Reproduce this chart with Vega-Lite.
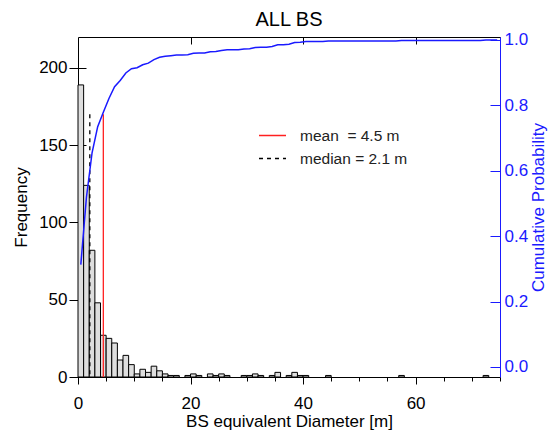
{
  "$schema": "https://vega.github.io/schema/vega-lite/v6.json",
  "width": 422,
  "height": 340,
  "autosize": "none",
  "padding": {"left": 78, "top": 37, "right": 57, "bottom": 55},
  "background": "white",
  "config": {
    "font": "Liberation Sans",
    "view": {"stroke": "black", "strokeWidth": 1},
    "axis": {
      "labelFont": "Liberation Sans", "titleFont": "Liberation Sans",
      "labelFontSize": 17, "titleFontSize": 17, "titleFontWeight": "normal",
      "grid": false, "labelColor": "black", "titleColor": "black",
      "tickColor": "black", "domainColor": "black", "labelFlush": false, "labelOverlap": false
    }
  },
  "title": {"text": "ALL BS", "fontSize": 20, "fontWeight": "normal", "font": "Liberation Sans", "offset": 1, "color": "black", "frame": "group"},
  "datasets": {
    "bins": [
      {"b0":0,"b1":1,"mid":0.5,"n":189,"cum":0.313},
      {"b0":1,"b1":2,"mid":1.5,"n":124,"cum":0.519},
      {"b0":2,"b1":3,"mid":2.5,"n":82,"cum":0.655},
      {"b0":3,"b1":4,"mid":3.5,"n":48,"cum":0.735},
      {"b0":4,"b1":5,"mid":4.5,"n":27,"cum":0.779},
      {"b0":5,"b1":6,"mid":5.5,"n":25,"cum":0.821},
      {"b0":6,"b1":7,"mid":6.5,"n":22,"cum":0.857},
      {"b0":7,"b1":8,"mid":7.5,"n":11,"cum":0.876},
      {"b0":8,"b1":9,"mid":8.5,"n":14,"cum":0.899},
      {"b0":9,"b1":10,"mid":9.5,"n":8,"cum":0.912},
      {"b0":10,"b1":11,"mid":10.5,"n":2,"cum":0.915},
      {"b0":11,"b1":12,"mid":11.5,"n":5,"cum":0.924},
      {"b0":12,"b1":13,"mid":12.5,"n":3,"cum":0.929},
      {"b0":13,"b1":14,"mid":13.5,"n":7,"cum":0.940},
      {"b0":14,"b1":15,"mid":14.5,"n":4,"cum":0.947},
      {"b0":15,"b1":16,"mid":15.5,"n":2,"cum":0.950},
      {"b0":16,"b1":17,"mid":16.5,"n":1,"cum":0.952},
      {"b0":17,"b1":18,"mid":17.5,"n":1,"cum":0.954},
      {"b0":18,"b1":19,"mid":18.5,"n":0,"cum":0.954},
      {"b0":19,"b1":20,"mid":19.5,"n":1,"cum":0.955},
      {"b0":20,"b1":21,"mid":20.5,"n":2,"cum":0.959},
      {"b0":21,"b1":22,"mid":21.5,"n":1,"cum":0.960},
      {"b0":22,"b1":23,"mid":22.5,"n":0,"cum":0.960},
      {"b0":23,"b1":24,"mid":23.5,"n":2,"cum":0.964},
      {"b0":24,"b1":25,"mid":24.5,"n":1,"cum":0.965},
      {"b0":25,"b1":26,"mid":25.5,"n":2,"cum":0.968},
      {"b0":26,"b1":27,"mid":26.5,"n":1,"cum":0.970},
      {"b0":27,"b1":28,"mid":27.5,"n":0,"cum":0.970},
      {"b0":28,"b1":29,"mid":28.5,"n":0,"cum":0.970},
      {"b0":29,"b1":30,"mid":29.5,"n":1,"cum":0.972},
      {"b0":30,"b1":31,"mid":30.5,"n":1,"cum":0.973},
      {"b0":31,"b1":32,"mid":31.5,"n":2,"cum":0.977},
      {"b0":32,"b1":33,"mid":32.5,"n":1,"cum":0.978},
      {"b0":33,"b1":34,"mid":33.5,"n":0,"cum":0.978},
      {"b0":34,"b1":35,"mid":34.5,"n":1,"cum":0.980},
      {"b0":35,"b1":36,"mid":35.5,"n":3,"cum":0.985},
      {"b0":36,"b1":37,"mid":36.5,"n":0,"cum":0.985},
      {"b0":37,"b1":38,"mid":37.5,"n":1,"cum":0.987},
      {"b0":38,"b1":39,"mid":38.5,"n":3,"cum":0.992},
      {"b0":39,"b1":40,"mid":39.5,"n":1,"cum":0.993},
      {"b0":40,"b1":41,"mid":40.5,"n":1,"cum":0.995},
      {"b0":41,"b1":42,"mid":41.5,"n":0,"cum":0.995},
      {"b0":42,"b1":43,"mid":42.5,"n":0,"cum":0.995},
      {"b0":43,"b1":44,"mid":43.5,"n":0,"cum":0.995},
      {"b0":44,"b1":45,"mid":44.5,"n":1,"cum":0.997},
      {"b0":45,"b1":46,"mid":45.5,"n":0,"cum":0.997},
      {"b0":46,"b1":47,"mid":46.5,"n":0,"cum":0.997},
      {"b0":47,"b1":48,"mid":47.5,"n":0,"cum":0.997},
      {"b0":48,"b1":49,"mid":48.5,"n":0,"cum":0.997},
      {"b0":49,"b1":50,"mid":49.5,"n":0,"cum":0.997},
      {"b0":50,"b1":51,"mid":50.5,"n":0,"cum":0.997},
      {"b0":51,"b1":52,"mid":51.5,"n":0,"cum":0.997},
      {"b0":52,"b1":53,"mid":52.5,"n":0,"cum":0.997},
      {"b0":53,"b1":54,"mid":53.5,"n":0,"cum":0.997},
      {"b0":54,"b1":55,"mid":54.5,"n":0,"cum":0.997},
      {"b0":55,"b1":56,"mid":55.5,"n":0,"cum":0.997},
      {"b0":56,"b1":57,"mid":56.5,"n":0,"cum":0.997},
      {"b0":57,"b1":58,"mid":57.5,"n":1,"cum":0.998},
      {"b0":58,"b1":59,"mid":58.5,"n":0,"cum":0.998},
      {"b0":59,"b1":60,"mid":59.5,"n":0,"cum":0.998},
      {"b0":60,"b1":61,"mid":60.5,"n":0,"cum":0.998},
      {"b0":61,"b1":62,"mid":61.5,"n":0,"cum":0.998},
      {"b0":62,"b1":63,"mid":62.5,"n":0,"cum":0.998},
      {"b0":63,"b1":64,"mid":63.5,"n":0,"cum":0.998},
      {"b0":64,"b1":65,"mid":64.5,"n":0,"cum":0.998},
      {"b0":65,"b1":66,"mid":65.5,"n":0,"cum":0.998},
      {"b0":66,"b1":67,"mid":66.5,"n":0,"cum":0.998},
      {"b0":67,"b1":68,"mid":67.5,"n":0,"cum":0.998},
      {"b0":68,"b1":69,"mid":68.5,"n":0,"cum":0.998},
      {"b0":69,"b1":70,"mid":69.5,"n":0,"cum":0.998},
      {"b0":70,"b1":71,"mid":70.5,"n":0,"cum":0.998},
      {"b0":71,"b1":72,"mid":71.5,"n":0,"cum":0.998},
      {"b0":72,"b1":73,"mid":72.5,"n":1,"cum":1.0},
      {"b0":73,"b1":74,"mid":73.5,"n":0,"cum":1.0},
      {"b0":74,"b1":75,"mid":74.5,"n":0,"cum":1.0}
    ],
    "stats": [
      {"stat": "mean\u00a0 = 4.5 m", "x": 4.5, "top": 170},
      {"stat": "median = 2.1 m", "x": 2.1, "top": 170}
    ]
  },
  "layer": [
    {
      "data": {"name": "bins"},
      "transform": [{"filter": "datum.n > 0"}],
      "mark": {"type": "rect", "fill": "#dedede", "stroke": "black", "strokeWidth": 1},
      "encoding": {
        "x": {
          "field": "b0", "type": "quantitative",
          "scale": {"domain": [0, 75], "nice": false, "zero": false},
          "axis": {
            "orient": "bottom", "domain": false,
            "values": [0,5,10,15,20,25,30,35,40,45,50,55,60,65,70,75],
            "tickSize": {"condition": {"test": "datum.value % 20 === 0", "value": 7}, "value": 4},
            "labelExpr": "datum.value % 20 === 0 ? datum.label : ''",
            "labelPadding": 11, "titlePadding": 2,
            "title": "BS equivalent Diameter [m]"
          }
        },
        "x2": {"field": "b1"},
        "y": {
          "field": "n", "type": "quantitative",
          "scale": {"domain": [0, 220], "nice": false},
          "axis": {
            "orient": "left", "offset": -8, "tickSize": 17, "domain": false,
            "values": [0, 50, 100, 150, 200],
            "labelPadding": 2, "titlePadding": 8, "title": "Frequency"
          }
        },
        "y2": {"datum": 0}
      }
    },
    {
      "data": {"name": "stats"},
      "mark": {"type": "rule", "strokeWidth": 1.3},
      "encoding": {
        "x": {"field": "x", "type": "quantitative", "axis": null},
        "y": {"field": "top", "type": "quantitative", "scale": {"domain": [0, 220], "nice": false}, "axis": null},
        "y2": {"datum": 0},
        "color": {
          "field": "stat", "type": "nominal",
          "scale": {"domain": ["mean\u00a0 = 4.5 m", "median = 2.1 m"], "range": ["#ff2020", "black"]},
          "legend": {"orient": "none", "legendX": 180, "legendY": 84, "title": null, "symbolType": "stroke", "symbolSize": 729, "symbolStrokeWidth": 1.3, "labelFontSize": 15.5, "labelFont": "Liberation Sans", "labelOffset": 13, "rowPadding": -3, "padding": 0, "labelColor": "#222222"}
        },
        "strokeDash": {
          "field": "stat", "type": "nominal",
          "scale": {"domain": ["mean\u00a0 = 4.5 m", "median = 2.1 m"], "range": [[1, 0], [4, 4]]},
          "legend": {"orient": "none", "legendX": 180, "legendY": 84, "title": null, "symbolType": "stroke", "symbolSize": 729, "symbolStrokeWidth": 1.3, "labelFontSize": 15.5, "labelFont": "Liberation Sans", "labelOffset": 13, "rowPadding": -3, "padding": 0, "labelColor": "#222222"}
        }
      }
    },
    {
      "data": {"name": "bins"},
      "mark": {"type": "line", "color": "#1a1aff", "strokeWidth": 1.5},
      "encoding": {
        "x": {
          "field": "mid", "type": "quantitative",
          "scale": {"domain": [0, 75], "nice": false, "zero": false},
          "axis": {"orient": "top", "values": [20, 40, 60], "tickSize": -7, "labels": false, "domain": false, "title": null}
        },
        "y": {
          "field": "cum", "type": "quantitative",
          "scale": {"domain": [-0.0306, 1.009], "nice": false, "zero": false},
          "axis": {
            "orient": "right", "tickSize": -10, "labelPadding": 14,
            "values": [0, 0.2, 0.4, 0.6, 0.8, 1.0], "format": ".1f",
            "domainColor": "#1a1aff", "tickColor": "#1a1aff", "labelColor": "#1a1aff", "titleColor": "#1a1aff",
            "title": "Cumulative Probability", "titleAngle": -90, "titleBaseline": "top", "titlePadding": 3
          }
        }
      }
    }
  ],
  "resolve": {"scale": {"y": "independent"}, "axis": {"x": "independent", "y": "independent"}}
}
